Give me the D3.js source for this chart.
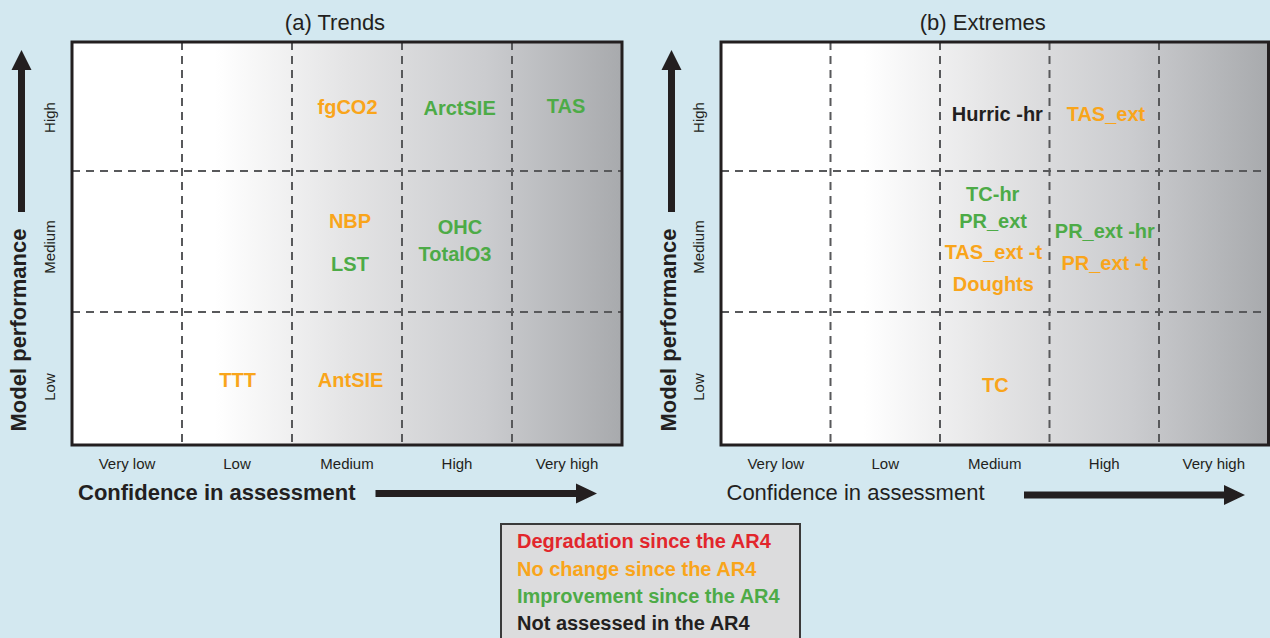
<!DOCTYPE html>
<html>
<head>
<meta charset="utf-8">
<script src="https://cdn.jsdelivr.net/npm/d3@7"></script>
<style>
  html, body { margin: 0; padding: 0; background: #d3e8f0; }
  svg { display: block; font-family: "Liberation Sans", Arial, sans-serif; }
</style>
</head>
<body>
<svg id="chart" width="1270" height="638"></svg>
<script>
// ---------------- DATA ----------------
const confidence = ["Very low", "Low", "Medium", "High", "Very high"];
const performance = ["Low", "Medium", "High"];
const statusKeys = ["degradation", "nochange", "improvement", "notassessed"];
const statusNames = ["Degradation since the AR4", "No change since the AR4", "Improvement since the AR4", "Not assessed in the AR4"];
const panelTitles = ["(a) Trends", "(b) Extremes"];

const trendLabels      = ["fgCO2", "ArctSIE", "TAS", "NBP", "LST", "OHC", "TotalO3", "TTT", "AntSIE"];
const trendConfidence  = ["Medium", "High", "Very high", "Medium", "Medium", "High", "High", "Low", "Medium"];
const trendPerformance = ["High", "High", "High", "Medium", "Medium", "Medium", "Medium", "Low", "Low"];
const trendStatus      = ["nochange", "improvement", "improvement", "nochange", "improvement", "improvement", "improvement", "nochange", "nochange"];

const extremeLabels      = ["Hurric -hr", "TAS_ext", "TC-hr", "PR_ext", "TAS_ext -t", "Doughts", "PR_ext -hr", "PR_ext -t", "TC"];
const extremeConfidence  = ["Medium", "High", "Medium", "Medium", "Medium", "Medium", "High", "High", "Medium"];
const extremePerformance = ["High", "High", "Medium", "Medium", "Medium", "Medium", "Medium", "Medium", "Low"];
const extremeStatus      = ["notassessed", "nochange", "improvement", "improvement", "nochange", "nochange", "improvement", "nochange", "nochange"];

// ---------------- LAYOUT / STYLE ----------------
const statusColor = d3.scaleOrdinal().domain(statusKeys).range(["#e2262c", "#f9a51b", "#4dab47", "#231f20"]);
// offsets of each label from its cell centre (layout only)
const trendNudge   = [[0.5,0.5],[2.6,1.5],[-1,-0.5],[3,-20.5],[3,22.5],[3,-14.5],[-2,12],[0.7,1.5],[3.6,1.5]];
const extremeNudge = [[2.6,7],[1.7,7],[-2,-47.5],[-1.7,-21.2],[-1.4,10.5],[-1.4,42.2],[0.6,-10.5],[0.5,21.5],[0.6,6.5]];
const rowLabelShift = [8.5, 5.5, 11];

const panels = [
  { x0: 72,  x1: 622,    arrowX: 21.5,  titleX: 26,  xTitleBold: true,
    labels: trendLabels, conf: trendConfidence, perf: trendPerformance, status: trendStatus, nudge: trendNudge,
    xArrow: [375.5, 597, 493.5], xTitleX: 78, rowLabelX: 55 },
  { x0: 721, x1: 1268.5, arrowX: 671.5, titleX: 676, xTitleBold: false,
    labels: extremeLabels, conf: extremeConfidence, perf: extremePerformance, status: extremeStatus, nudge: extremeNudge,
    xArrow: [1024, 1245, 495], xTitleX: 726.5, rowLabelX: 704 }
];

const svg = d3.select("#chart");
svg.append("rect").attr("width", 1270).attr("height", 638).attr("fill", "#d3e8f0");

const defs = svg.append("defs");
const grad = defs.append("linearGradient").attr("id", "confGrad")
  .attr("x1", "0%").attr("x2", "100%").attr("y1", "0%").attr("y2", "0%");
[[0, "#ffffff"], [0.26, "#ffffff"], [0.5, "#e4e4e5"], [0.75, "#cbcccf"], [1, "#a8aaad"]]
  .forEach(([o, c]) => grad.append("stop").attr("offset", o).attr("stop-color", c));

const yEdge = d3.scaleLinear().domain([0, 1, 2, 3]).range([445, 312, 171, 42]);
const rowIndex = d3.scaleOrdinal().domain(performance).range([0, 1, 2]);
const rowCenter = p => (yEdge(rowIndex(p)) + yEdge(rowIndex(p) + 1)) / 2;

panels.forEach((P, pi) => {
  const g = svg.append("g");
  const x = d3.scaleBand().domain(confidence).range([P.x0, P.x1]).padding(0);
  const top = yEdge(3), bottom = yEdge(0);

  g.append("rect").attr("x", P.x0).attr("y", top)
    .attr("width", P.x1 - P.x0).attr("height", bottom - top)
    .attr("fill", "url(#confGrad)");

  // dashed grid
  const dash = { stroke: "#58595b", "stroke-width": 2, "stroke-dasharray": "8,6" };
  confidence.slice(1).forEach(c => {
    const l = g.append("line").attr("x1", x(c)).attr("x2", x(c)).attr("y1", top).attr("y2", bottom);
    Object.entries(dash).forEach(([k, v]) => l.attr(k, v));
  });
  [1, 2].forEach(i => {
    const l = g.append("line").attr("x1", P.x0).attr("x2", P.x1).attr("y1", yEdge(i)).attr("y2", yEdge(i));
    Object.entries(dash).forEach(([k, v]) => l.attr(k, v));
  });

  g.append("rect").attr("x", P.x0).attr("y", top)
    .attr("width", P.x1 - P.x0).attr("height", bottom - top)
    .attr("fill", "none").attr("stroke", "#231f20").attr("stroke-width", 3);

  // title
  g.append("text").attr("x", (P.x0 + P.x1) / 2 - 12).attr("y", 30)
    .attr("text-anchor", "middle").attr("font-size", 22).attr("fill", "#231f20")
    .text(panelTitles[pi]);

  // x axis labels
  const ax = g.append("g").attr("transform", `translate(0,${bottom})`)
    .call(d3.axisBottom(x).tickSize(0).tickPadding(13));
  ax.select(".domain").remove();
  ax.attr("font-family", null).attr("font-size", null);
  ax.selectAll("text").attr("font-size", 15).attr("fill", "#231f20");

  // row labels (rotated)
  performance.forEach((p, i) => {
    const cy = rowCenter(p) + rowLabelShift[i];
    g.append("text").attr("transform", `translate(${P.rowLabelX},${cy}) rotate(-90)`)
      .attr("text-anchor", "middle").attr("font-size", 15).attr("fill", "#231f20").text(p);
  });

  // y title + arrow
  g.append("text").attr("transform", `translate(${P.titleX},330) rotate(-90)`)
    .attr("text-anchor", "middle").attr("font-size", 22).attr("font-weight", "bold")
    .attr("fill", "#231f20").text("Model performance");
  const ax0 = P.arrowX;
  g.append("path").attr("fill", "#231f20")
    .attr("d", `M${ax0 - 3.5},212 L${ax0 - 3.5},70 L${ax0 - 10},70 L${ax0},50 L${ax0 + 10},70 L${ax0 + 3.5},70 L${ax0 + 3.5},212 Z`);

  // x title + arrow
  g.append("text").attr("x", P.xTitleX).attr("y", 500)
    .attr("font-size", 22).attr("font-weight", P.xTitleBold ? "bold" : "normal")
    .attr("fill", "#231f20").text("Confidence in assessment");
  const [xa, xb, ya] = P.xArrow;
  g.append("path").attr("fill", "#231f20")
    .attr("d", `M${xa},${ya - 3.5} L${xb - 21},${ya - 3.5} L${xb - 21},${ya - 10} L${xb},${ya} L${xb - 21},${ya + 10} L${xb - 21},${ya + 3.5} L${xa},${ya + 3.5} Z`);

  // variable labels
  P.labels.forEach((lab, i) => {
    const cx = x(P.conf[i]) + x.bandwidth() / 2 + P.nudge[i][0];
    const cy = rowCenter(P.perf[i]) + P.nudge[i][1];
    g.append("text").attr("x", cx).attr("y", cy).attr("dy", "0.36em")
      .attr("text-anchor", "middle").attr("font-size", 20).attr("font-weight", "bold")
      .attr("fill", statusColor(P.status[i])).text(lab);
  });
});

// legend
const lg = svg.append("g");
lg.append("rect").attr("x", 501).attr("y", 524).attr("width", 299).attr("height", 130)
  .attr("fill", "#dcdcdd").attr("stroke", "#3a3a3a").attr("stroke-width", 2);
const ly = d3.scaleLinear().domain([0, 3]).range([548.3, 630]);
statusKeys.forEach((k, i) => {
  lg.append("text").attr("x", 517).attr("y", ly(i))
    .attr("font-size", 20).attr("font-weight", "bold").attr("fill", statusColor(k))
    .text(statusNames[i]);
});
</script>
</body>
</html>
